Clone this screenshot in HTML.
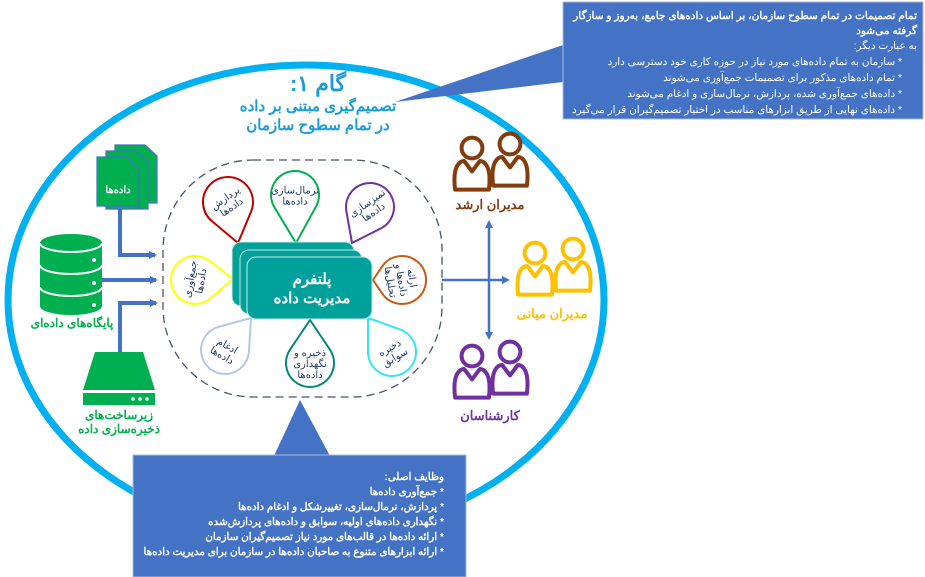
<!DOCTYPE html>
<html><head><meta charset="utf-8"><style>
html,body{margin:0;padding:0;background:#fff;}
svg{display:block;font-family:"Liberation Sans","Noto Sans CJK SC",sans-serif;}
</style></head><body>
<svg id="s" width="925" height="577" viewBox="0 0 925 577" xmlns="http://www.w3.org/2000/svg">
<defs>
<marker id="ah" markerWidth="8" markerHeight="8" refX="6" refY="4" orient="auto" markerUnits="userSpaceOnUse"><path d="M0,0 L8,4 L0,8 z" fill="#4472c4"/></marker>
</defs>
<ellipse cx="306" cy="300" rx="298" ry="235" fill="none" stroke="#00b0f0" stroke-width="7"/>
<!-- top callout -->
<polygon points="563,45 395,102 563,82" fill="#4472c4"/>
<rect x="563" y="2" width="360" height="117" fill="#4472c4" stroke="#a9b9dd" stroke-width="1"/>
<g fill="#fff" text-anchor="start" direction="rtl" font-size="10.4">
<text x="917" y="19" font-weight="bold" font-size="10.5">تمام تصمیمات در تمام سطوح سازمان، بر اساس داده‌های جامع، به‌روز و سازگار</text>
<text x="917" y="34" font-weight="bold" font-size="10.5">گرفته می‌شود</text>
<text x="917" y="49">به عبارت دیگر:</text>
<text x="902" y="65">* سازمان به تمام داده‌های مورد نیاز در حوزه کاری خود دسترسی دارد</text>
<text x="902" y="81">* تمام داده‌های مذکور برای تصمیمات جمع‌آوری می‌شوند</text>
<text x="902" y="97">* داده‌های جمع‌آوری شده، پردازش، نرمال‌سازی و ادغام می‌شوند</text>
<text x="902" y="113">* داده‌های نهایی از طریق ابزارهای مناسب در اختیار تصمیم‌گیران قرار می‌گیرد</text>
</g>
<!-- title -->
<g fill="#1b9bd7" font-weight="bold" text-anchor="middle" direction="rtl">
<text x="318" y="91" font-size="22">گام ۱:</text>
<text x="318" y="111" font-size="15">تصمیم‌گیری مبتنی بر داده</text>
<text x="318" y="130" font-size="15">در تمام سطوح سازمان</text>
</g>
<!-- dashed region -->
<rect x="163" y="160" width="279" height="237" rx="90" ry="90" fill="none" stroke="#44546a" stroke-width="1.3" stroke-dasharray="8,5"/>
<!-- bottom callout -->
<polygon points="300,400 274,456 330,456" fill="#4472c4"/>
<rect x="133" y="455" width="333" height="122" fill="#4472c4" stroke="#a9b9dd" stroke-width="1"/>
<g fill="#fff" text-anchor="start" direction="rtl" font-size="10.3" font-weight="bold">
<text x="444" y="480">وظایف اصلی:</text>
<text x="444" y="495">* جمع‌آوری داده‌ها</text>
<text x="444" y="510">* پردازش، نرمال‌سازی، تغییرشکل و ادغام داده‌ها</text>
<text x="444" y="525">* نگهداری داده‌های اولیه، سوابق و داده‌های پردازش‌شده</text>
<text x="444" y="540">* ارائه داده‌ها در قالب‌های مورد نیاز تصمیم‌گیران سازمان</text>
<text x="444" y="555">* ارائه ابزارهای متنوع به صاحبان داده‌ها در سازمان برای مدیریت داده‌ها</text>
</g>
<g id="petals"></g>
<!-- platform -->
<rect x="232" y="242" width="122" height="64" rx="9" fill="#00a19a" stroke="#c9ecea" stroke-width="1"/>
<rect x="240" y="250" width="122" height="64" rx="9" fill="#00a19a" stroke="#c9ecea" stroke-width="1"/>
<rect x="247" y="257" width="125" height="62" rx="9" fill="#00a19a" stroke="#c9ecea" stroke-width="1"/>
<g fill="#fff" font-weight="bold" text-anchor="middle" direction="rtl" font-size="15">
<text x="312" y="284">پلتفرم</text>
<text x="312" y="303">مدیریت داده</text>
</g>
<!-- documents -->
<g fill="#00b050" stroke="#4472c4" stroke-width="1.2">
<path d="M115,145 h30 l12,11 v47 h-42 z"/>
<path d="M106,151 h30 l12,11 v47 h-42 z"/>
<path d="M97,157 h30 l12,11 v38 h-42 z"/>
</g>
<text x="118" y="193" fill="#fff" font-size="10" font-weight="bold" text-anchor="middle" direction="rtl">داده‌ها</text>
<g stroke="#4472c4" stroke-width="4" fill="none">
<path d="M120,206 V255 H155" marker-end="url(#ah)"/>
<path d="M102,280 H156" marker-end="url(#ah)"/>
<path d="M120,352 V303 H156" marker-end="url(#ah)"/>
</g>
<!-- database -->
<g fill="#00b050">
<path d="M40,243 a31,9 0 0 1 62,0 v63 a31,9 0 0 1 -62,0 z"/>
</g>
<g stroke="#fff" stroke-width="2" fill="none">
<path d="M40,243 a31,9 0 0 0 62,0"/>
<path d="M40,265 a31,9 0 0 0 62,0"/>
<path d="M40,287 a31,9 0 0 0 62,0"/>
</g>
<g fill="#fff"><circle cx="94" cy="260" r="2"/><circle cx="94" cy="283" r="2"/><circle cx="94" cy="305" r="2"/></g>
<text x="72" y="327" fill="#00b050" font-size="12" font-weight="bold" text-anchor="middle" direction="rtl">پایگاه‌های داده‌ای</text>
<!-- storage -->
<path d="M95,352 H143 L155,390 H83 z" fill="#00b050"/>
<rect x="83" y="393" width="72" height="12" fill="#00b050"/>
<g fill="#fff"><circle cx="133" cy="399" r="1.8"/><circle cx="140" cy="399" r="1.8"/><circle cx="147" cy="399" r="1.8"/></g>
<g fill="#00b050" font-size="12" font-weight="bold" text-anchor="middle" direction="rtl">
<text x="119" y="419">زیرساخت‌های</text>
<text x="119" y="433">ذخیره‌سازی داده</text>
</g>
<!-- right arrows -->
<g stroke="#4472c4" stroke-width="2.5" fill="none">
<path d="M442,280 H508" marker-end="url(#ah)"/>
<path d="M489,280 V222" marker-end="url(#ah)"/>
<path d="M489,280 V338" marker-end="url(#ah)"/>
</g>
<g id="people"></g>
<g font-size="13" font-weight="bold" text-anchor="middle" direction="rtl">
<text x="490" y="209" fill="#843c0c">مدیران ارشد</text>
<text x="552" y="318" fill="#ffc000">مدیران میانی</text>
<text x="490" y="420" fill="#7030a0">کارشناسان</text>
</g>
</svg>
<script>
var NS="http://www.w3.org/2000/svg";
function el(t,a,p){var e=document.createElementNS(NS,t);for(var k in a)e.setAttribute(k,a[k]);p.appendChild(e);return e;}
var P=document.getElementById("petals");
var petals=[
 [228,202,25,238,243,"#c00000",["پردازش","داده‌ها"],-35],
 [295,195,24,296,243,"#00b050",["نرمال‌سازی","داده‌ها"],0],
 [370,207,24,352,243,"#7030a0",["تمیزسازی","داده‌ها"],-35],
 [195,280,24,233,279,"#ffff00",["جمع‌آوری","داده‌ها"],-80],
 [402,280,24,373,280,"#c55a11",["ارائه","داده‌ها و","تحلیل‌ها"],80],
 [225,350,24,251,318,"#b4c7e7",["ادغام","داده‌ها"],30],
 [310,363,24,310,320,"#00897b",["ذخیره و","نگهداری","داده‌ها"],0],
 [392,352,24,368,318,"#33e6f0",["ذخیره","سوابق"],-30]
];
petals.forEach(function(p){
 var cx=p[0],cy=p[1],r=p[2],tx=p[3],ty=p[4];
 var dx=tx-cx,dy=ty-cy,d=Math.sqrt(dx*dx+dy*dy),a=Math.atan2(dy,dx),b=Math.acos(r/d);
 var x1=cx+r*Math.cos(a+b),y1=cy+r*Math.sin(a+b),x2=cx+r*Math.cos(a-b),y2=cy+r*Math.sin(a-b);
 el("path",{d:"M"+tx+","+ty+" L"+x1+","+y1+" A"+r+","+r+" 0 1 1 "+x2+","+y2+" Z",fill:"#fff",stroke:p[5],"stroke-width":2},P);
 var g=el("g",{transform:"rotate("+p[7]+" "+cx+" "+cy+")"},P);
 var n=p[6].length;
 p[6].forEach(function(s,i){
  var t=el("text",{x:cx,y:cy+4+(i-(n-1)/2)*11,"font-size":"10","fill":"#1f3864","text-anchor":"middle",direction:"rtl"},g);t.textContent=s;
 });
});
var PP=document.getElementById("people");
function person(x,y,s,c,g){
 el("circle",{cx:x,cy:y,r:8*s,fill:"none",stroke:c,"stroke-width":4},g);
 var w=13*s,t=y+10*s,h=22*s;
 el("path",{d:"M"+(x-w)+","+(t+h)+" C"+(x-w-3)+","+(t+4)+" "+(x-9*s)+","+t+" "+(x-6*s)+","+t+" L"+x+","+(t+8*s)+" L"+(x+6*s)+","+t+" C"+(x+9*s)+","+t+" "+(x+w+3)+","+(t+4)+" "+(x+w)+","+(t+h)+" Z",fill:"#fff",stroke:c,"stroke-width":4,"stroke-linejoin":"round"},g);
}
function pair(x,y,c){
 person(x+38,y-4,1.3,c,PP);
 person(x,y,1.3,c,PP);
}
pair(472,148,"#843c0c");
pair(535,253,"#ffc000");
pair(472,356,"#7030a0");
</script>
</body></html>
